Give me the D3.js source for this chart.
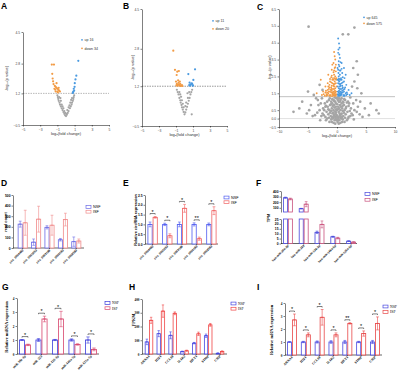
<!DOCTYPE html>
<html>
<head>
<meta charset="utf-8">
<script src="https://cdn.jsdelivr.net/npm/d3@7"></script>
<style>
body { margin: 0; background: #fff; }
svg { display: block; }
</style>
</head>
<body>
<script>
const width = 400, height = 377;
const SANS = "Arial, 'Liberation Sans', sans-serif";
const SERIF = "'Times New Roman', 'Liberation Serif', serif";

// ---- volcano data: [log2 fold change, -log10 p] ----
const aUp = [[0.78,1.22],[0.85,1.3],[0.9,1.45],[1.0,1.55],[1.02,1.75],[1.1,1.95],[1.2,2.15],[0.82,1.25],[0.95,1.35],[1.43,2.95]];
const aDown = [[-1.65,2.75],[-1.4,2.75],[-1.6,2.25],[-1.55,2.0],[-1.5,1.85],[-1.45,1.7],[-1.3,1.6],[-1.2,1.55],[-1.1,1.5],[-1.0,1.45],
  [-0.9,1.4],[-0.8,1.35],[-1.35,1.45],[-1.2,1.3],[-0.95,1.25],[-0.7,1.3],[-1.1,1.75],[-1.25,1.4],[-0.85,1.5],[-1.0,1.3]];
const aNs = [[-1.0,1.1],[-0.95,1.0],[-0.9,0.9],[-0.85,0.8],[-0.75,0.7],[-0.7,0.6],[-0.6,0.5],[-0.5,0.4],[-0.4,0.3],[-0.3,0.2],
  [-0.2,0.1],[-0.1,0.02],[0,-0.02],[0.1,0.05],[0.2,0.15],[0.3,0.25],[0.45,0.4],[0.55,0.5],[0.65,0.6],[0.7,0.7],[0.8,0.8],
  [0.85,0.9],[0.9,1.0],[0.95,1.1],[-0.5,0.6],[-0.3,0.4],[0.3,0.45],[-0.6,0.8],[0.5,0.7],[-0.8,1.0],[0.7,0.95],[-0.2,0.25],
  [0.15,0.3],[-0.4,0.5],[0.4,0.55],[-0.1,0.15],[0.05,0.1],[-0.65,0.95],[0.6,0.85]];

const bUp = [[0.45,1.72],[1.04,1.47],[0.85,1.32],[0.65,1.22],[0.95,1.22],[0.55,1.25],[0.75,1.28],[0.9,1.3],[1.0,1.24],[0.6,1.35],[1.24,1.92]];
const bDown = [[-1.32,2.72],[-1.12,1.9],[-0.85,1.82],[-0.66,1.85],[-0.92,1.68],[-1.0,1.4],[-0.9,1.3],[-0.8,1.25],[-0.7,1.35],[-0.6,1.22],
  [-0.5,1.3],[-0.4,1.22],[-0.3,1.25],[-0.85,1.22],[-0.55,1.4],[-0.95,1.24],[-0.25,1.21],[-0.75,1.45],[-0.45,1.21],[-0.65,1.28]];
const bNs = [[-0.9,1.05],[-0.8,0.95],[-0.7,0.85],[-0.6,0.7],[-0.5,0.6],[-0.45,0.5],[-0.35,0.4],[-0.3,0.3],[-0.2,0.2],[-0.1,0.1],
  [0,0.0],[0.1,0.08],[0.2,0.2],[0.3,0.32],[0.4,0.45],[0.5,0.58],[0.6,0.7],[0.7,0.85],[0.8,0.95],[0.9,1.05],[-0.4,0.75],
  [0.4,0.7],[-0.6,0.95],[0.55,0.95],[-0.2,0.45],[0.2,0.5],[0.35,0.9],[-0.3,0.6],[0.85,0.0],[-0.1,0.3],[0.1,0.35],[-0.5,0.85]];

const cUp = [[0.2,1.4],[0.4,1.5],[0.6,1.6],[0.8,1.45],[1.0,1.55],[1.2,1.4],[1.5,1.5],[1.8,1.45],[0.3,1.8],[0.5,1.9],[0.7,1.75],
  [0.9,1.95],[1.1,1.7],[1.4,1.85],[0.2,2.1],[0.4,2.2],[0.6,2.05],[0.8,2.3],[1.0,2.15],[0.3,2.5],[0.5,2.6],[0.7,2.4],[0.9,2.7],
  [0.2,2.9],[0.4,3.1],[0.6,2.85],[0.3,3.4],[0.5,3.6],[0.2,3.9],[0.35,4.45],[0.2,4.75],[1.3,2.4],[1.6,2.0],[2.0,1.7],[2.5,1.5],
  [0.15,1.6],[0.25,1.35],[0.45,1.35],[0.65,1.38],[0.1,2.3],[0.1,3.0],[1.2,3.0],[0.8,3.3],[1.1,1.35],[0.35,1.65],[0.55,1.45],
  [0.75,1.55],[0.95,1.8],[1.5,2.6],[0.15,1.9],[0.3,2.25],[0.5,2.35],[0.25,2.7],
  [0.3,1.55],[0.7,1.5],[1.2,1.6],[1.7,1.55],[2.2,1.4],[0.5,1.75],[0.9,1.65],[1.3,1.75],[0.6,1.95],[1.0,1.85],[0.4,2.05],
  [0.8,2.1],[1.2,2.2],[0.3,2.35],[0.6,2.3],[1.0,2.45],[0.5,2.85],[0.8,2.95],[0.3,3.2],[0.6,3.35],[0.4,3.8],[0.15,1.45],
  [0.35,1.42],[0.55,1.6],[0.75,1.42],[1.3,1.35],[1.6,1.4],[0.25,4.1],[0.45,4.2]];
const cDown = [[-0.2,1.4],[-0.4,1.5],[-0.6,1.6],[-0.8,1.45],[-1.0,1.55],[-1.2,1.4],[-1.5,1.5],[-1.8,1.45],[-2.1,1.35],[-0.3,1.8],
  [-0.5,1.9],[-0.7,1.75],[-0.9,1.95],[-1.1,1.7],[-1.3,1.85],[-1.6,1.7],[-0.2,2.1],[-0.4,2.2],[-0.6,2.05],[-0.8,2.3],[-1.0,2.15],
  [-1.3,2.0],[-0.3,2.5],[-0.5,2.6],[-0.7,2.4],[-0.9,2.55],[-1.2,2.35],[-0.2,2.8],[-0.4,3.0],[-0.6,2.75],[-0.8,3.2],[-0.3,3.5],
  [-0.5,3.95],[-1.5,2.6],[-2.0,1.9],[-2.4,1.6],[-0.15,1.6],[-0.25,1.35],[-0.45,1.35],[-0.65,1.38],[-0.85,1.32],[-0.1,1.9],
  [-0.1,2.4],[-1.1,1.35],[-1.4,1.6],[-0.35,1.65],[-0.55,1.45],[-0.75,1.55],[-0.95,1.75],[-0.2,3.2],[-2.8,2.3],[-3.5,1.5],
  [-0.15,2.3],[-0.45,2.4],[-1.6,2.1],
  [-0.3,1.55],[-0.7,1.5],[-1.2,1.6],[-1.7,1.55],[-2.3,1.45],[-2.6,1.4],[-0.5,1.75],[-0.9,1.65],[-1.4,1.75],[-1.9,1.65],
  [-0.6,1.95],[-1.0,1.85],[-1.5,1.9],[-0.4,2.05],[-0.8,2.1],[-1.2,2.2],[-0.3,2.35],[-0.6,2.3],[-1.0,2.45],[-0.5,2.85],
  [-0.9,2.9],[-0.3,3.05],[-0.6,3.3],[-0.4,3.7],[-1.8,1.35],[-2.0,1.55],[-0.15,1.45],[-0.35,1.42],[-0.55,1.6],[-0.75,1.42],
  [-1.3,1.35],[-1.6,1.4]];
const cNs = [[-0.2,0.1],[0.2,0.1],[-0.5,0.2],[0.5,0.2],[-0.8,0.3],[0.8,0.3],[-1.1,0.15],[1.1,0.15],[-1.5,0.25],[1.5,0.25],
  [-0.3,0.4],[0.3,0.4],[-0.6,0.5],[0.6,0.5],[-0.9,0.6],[0.9,0.6],[-1.3,0.5],[1.3,0.5],[-1.8,0.4],[1.8,0.4],[-0.2,0.7],[0.2,0.7],
  [-0.5,0.8],[0.5,0.8],[-0.8,0.9],[0.8,0.9],[-1.2,0.8],[1.2,0.8],[-1.6,0.7],[1.6,0.7],[-0.3,1.0],[0.3,1.0],[-0.6,1.1],[0.6,1.1],
  [-1.0,1.0],[1.0,1.0],[-1.4,1.1],[1.4,1.1],[-2.1,0.9],[2.1,0.9],[-0.1,-0.1],[0.1,-0.2],[-0.4,-0.1],[0.4,-0.1],[-0.7,0.0],
  [0.7,0.0],[-1.0,-0.05],[1.0,-0.05],[-1.4,0.05],[1.4,0.05],[-2.0,0.1],[2.0,0.1],[-2.5,0.3],[2.5,0.3],[-2.4,0.6],[2.4,0.6],
  [-3.0,0.5],[3.0,0.5],[-2.8,0.9],[2.8,0.9],[-3.3,1.1],[3.3,1.1],[-0.1,1.2],[0.1,1.25],[-0.4,1.25],[0.4,1.2],[-0.05,0.5],
  [0.05,0.85],[-0.15,0.35],[0.15,0.55],[-4.5,0.8],[4.8,0.6],[-5.2,0.3],[5.5,0.2],[-3.8,0.2],[3.9,0.25],[-6.5,0.6],[6.8,0.5],
  [-4.0,1.4],[4.2,1.5],[-5.0,1.6],[3.5,1.8],[-3.6,1.2],[4.0,1.0],[-7.5,0.4],[7.2,0.3],[-4.8,0.5],[5.8,0.9],[-6.0,1.0],
  [3.0,2.2],[3.6,2.6],[2.8,3.0],[3.4,3.4],[-4.9,5.45],[3.0,5.4],[1.0,5.0],[1.95,5.0],[-2.5,1.7],[2.6,1.9],[-3.0,2.0],
  [-0.3,-0.3],[0.3,-0.3],[-0.6,-0.25],[0.6,-0.25],[-0.9,-0.2],[0.9,-0.2],[-1.7,0.0],[1.7,-0.1],[-2.2,0.5],[2.2,0.45],
  [-1.9,0.75],[1.9,1.0],[-2.6,1.2],[2.3,1.25],[-3.2,0.8],[3.6,0.7],
  [-0.25,0.0],[0.25,0.0],[-0.55,0.1],[0.55,0.1],[-0.85,0.1],[0.85,0.1],[-1.2,0.35],[1.2,0.35],[-0.15,0.55],[0.35,0.6],
  [-0.45,0.65],[0.65,0.7],[-0.75,0.75],[0.95,0.75],[-1.05,0.85],[1.1,0.95],[-0.2,0.9],[0.15,1.1],[-0.5,1.05],[0.5,1.0],
  [-0.8,1.15],[0.8,1.2],[-1.25,1.2],[1.25,1.15],[-1.7,1.0],[1.7,0.95],[-2.0,0.7],[2.0,0.75],[-2.3,0.2],[2.3,0.15],
  [-1.3,-0.2],[1.3,-0.2],[-1.9,-0.1],[1.9,0.0],[-0.05,0.2],[0.05,-0.05],[-0.35,0.25],[0.45,0.3],[-0.65,0.35],[0.7,0.25],
  [-1.0,0.45],[1.0,0.45],[-1.5,0.55],[1.5,0.6],[-2.7,0.15],[2.7,0.2],[-3.4,0.35],[3.4,0.4],[-4.2,0.15],[4.4,0.1],
  [-2.9,-0.1],[2.9,-0.05]];

// ---- bar data ----
const circNames = ["circ_0004482", "circ_0001653", "circ_0003186", "circ_0000183", "circ_0002583"];
const dNsf = [225, 55, 195, 78, 60], dNsfErr = [28, 30, 15, 12, 44];
const dIsf = [238, 272, 215, 268, 66], dIsfErr = [118, 122, 94, 60, 19];

const eNsf = [1, 1, 1, 1, 1], eNsfErr = [0.12, 0.06, 0.12, 0.08, 0.07];
const eIsf = [1.36, 0.42, 1.82, 0.27, 1.70], eIsfErr = [0.04, 0.1, 0.2, 0.08, 0.2];
const eStars = ["*", "*", "*", "**", "*"];

const fNames = ["hsa-miR-30e-3p", "hsa-miR-223", "hsa-miR-126-3p", "hsa-miR-146a-5p", "hsa-miR-125a-5p"];
const fNsf = [280, 85, 11.4, 6.9, 2.4], fNsfErr = [10, 5, 1.2, 0.5, 0.3];
const fIsf = [257, 165, 19.5, 5.5, 1.4], fIsfErr = [15, 45, 3.5, 0.8, 0.4];

const gNames = ["miR-30e-3p", "miR-223", "miR-126-3p", "miR-146a-5p", "miR-125a-5p"];
const gNsf = [1, 1, 1, 1, 1], gNsfErr = [0.03, 0.1, 0.04, 0.08, 0.22];
const gIsf = [0.65, 2.5, 2.5, 0.68, 0.33], gIsfErr = [0.05, 0.2, 0.55, 0.05, 0.1];
const gStars = ["*", "*", "*", "*", "*"];

const geneNames = ["ANXA1", "HIF1", "CCL18", "IL1R2", "HEY1", "S100P", "CSIP"];
const hNsf = [88, 148, 136, 18, 79, 133, 5], hNsfErr = [20, 22, 25, 3, 5, 12, 3];
const hIsf = [245, 312, 296, 24, 147, 212, 18], hIsfErr = [22, 45, 10, 4, 12, 10, 5];

const iNsf = [1, 1, 1, 1, 1, 1, 1], iNsfErr = [0.02, 0.05, 0.08, 0.1, 0.12, 0.05, 0.12];
const iIsf = [2.7, 1.55, 2.9, 1.55, 2.43, 1.65, 2.43], iIsfErr = [0.45, 0.15, 0.6, 0.15, 0.05, 0.2, 0.5];
const iStars = ["*", "*", "*", "*", "**", "*", "*"];

const svg = d3.select("body").append("svg")
  .attr("width", width)
  .attr("height", height);

function styleAxis(ax, font, size, bold) {
  ax.attr("font-family", font).attr("font-size", size);
  ax.select(".domain").attr("stroke-width", 0.5);
  ax.selectAll(".tick line").attr("stroke-width", 0.5);
  ax.selectAll(".tick text").attr("font-weight", bold ? "bold" : "normal");
}

function panelLetter(t, x, y) {
  svg.append("text").attr("x", x).attr("y", y)
    .attr("font-family", SANS).attr("font-weight", "bold").attr("font-size", 8.5)
    .text(t);
}

// volcano plots
function volcano(o) {
  const g = svg.append("g");
  const x = d3.scaleLinear().domain(o.xDomain).range([o.x0, o.x1]);
  const y = d3.scaleLinear().domain(o.yDomain).range([o.yBot, o.yTop]);

  o.lines.forEach(function(l) {
    g.append("line")
      .attr("x1", o.x0).attr("x2", o.x1)
      .attr("y1", y(l.v)).attr("y2", y(l.v))
      .attr("stroke", l.color).attr("stroke-width", 0.6)
      .attr("stroke-dasharray", l.dash);
  });

  const groups = [[o.ns, "#a5a5a5", o.rNs], [o.down, "#f29b45", o.r], [o.up, "#4a9ae0", o.r]];
  groups.forEach(function(gr) {
    g.append("g").selectAll("circle")
      .data(gr[0])
      .enter().append("circle")
      .attr("cx", d => x(d[0]))
      .attr("cy", d => y(d[1]))
      .attr("r", gr[2])
      .attr("fill", gr[1]);
  });

  const ax = g.append("g").attr("transform", "translate(0," + o.yBot + ")")
    .call(d3.axisBottom(x).tickValues(o.xTicks).tickSize(1.5).tickSizeOuter(0).tickPadding(2).tickFormat(d3.format("d")));
  styleAxis(ax, SANS, 3.3);
  const ay = g.append("g").attr("transform", "translate(" + o.x0 + ",0)")
    .call(d3.axisLeft(y).tickValues(o.yTicks).tickSize(1.5).tickSizeOuter(0).tickPadding(1.5).tickFormat(d3.format(".1f")));
  styleAxis(ay, SANS, 3.3);
  ax.selectAll("text").attr("fill", "#444");
  ay.selectAll("text").attr("fill", "#444");

  g.append("text")
    .attr("x", (o.x0 + o.x1) / 2).attr("y", o.yBot + 9.5)
    .attr("text-anchor", "middle").attr("font-family", SANS).attr("font-size", 4).attr("fill", "#333")
    .text("log\u2082(fold change)");
  g.append("text")
    .attr("transform", "translate(" + o.titleX + "," + (o.yBot + o.yTop) / 2 + ") rotate(-90)")
    .attr("text-anchor", "middle").attr("font-family", SANS).attr("font-size", 4).attr("fill", "#333")
    .text("-log\u2081\u2080(p value)");

  // legend
  [[o.upLabel, "#4a9ae0", 0], [o.downLabel, "#f29b45", 1]].forEach(function(l) {
    const ly = o.legY + l[2] * o.legStep;
    g.append("circle").attr("cx", o.legX).attr("cy", ly - 1.2).attr("r", 0.9).attr("fill", l[1]);
    g.append("text").attr("x", o.legX + 2.5).attr("y", ly)
      .attr("font-family", SANS).attr("font-size", 3.6).attr("fill", "#333").text(l[0]);
  });
}

// grouped outline bar charts (NSF vs ISF)
function barPanel(o) {
  const g = svg.append("g");
  const x = d3.scaleBand().domain(o.cats).range([o.x0, o.x1]).paddingInner(o.pi).paddingOuter(o.po);
  const sub = d3.scaleBand().domain(["NSF", "ISF"]).range([0, x.bandwidth()]);
  const segs = o.segs.map(s => Object.assign({}, s, { y: d3.scaleLinear().domain(s.domain).range(s.range) }));
  const base = segs[0].range[0];

  segs.forEach(function(s) {
    const ay = g.append("g").attr("transform", "translate(" + o.axisX + ",0)")
      .call(d3.axisLeft(s.y).tickValues(s.ticks).tickSize(1.5).tickSizeOuter(0).tickPadding(1).tickFormat(d3.format(s.fmt || "")));
    styleAxis(ay, o.font, 3.3, true);
  });

  g.append("line")
    .attr("x1", o.axisX).attr("x2", o.x1)
    .attr("y1", base).attr("y2", base)
    .attr("stroke", "#000").attr("stroke-width", 0.6);

  const series = [
    { key: "NSF", v: o.nsf, e: o.nsfErr, c: o.cNsf },
    { key: "ISF", v: o.isf, e: o.isfErr, c: o.cIsf }
  ];
  const tops = o.cats.map(() => Infinity);

  series.forEach(function(s) {
    o.cats.forEach(function(cat, i) {
      const v = s.v[i], e = s.e[i];
      const bx = x(cat) + sub(s.key), bw = sub.bandwidth();
      segs.forEach(function(sg) {
        if (v <= sg.domain[0]) return;
        const top = sg.y(Math.min(v, sg.domain[1]));
        g.append("rect")
          .attr("x", bx + 0.45).attr("y", top)
          .attr("width", bw - 0.9).attr("height", sg.y(sg.domain[0]) - top)
          .attr("fill", "#fff").attr("stroke", s.c).attr("stroke-width", 0.8);
      });
      const sg = segs.find(q => v <= q.domain[1]) || segs[segs.length - 1];
      const cx = bx + bw / 2, yHi = sg.y(v + e), yLo = sg.y(Math.max(v - e, sg.domain[0]));
      const cap = bw * 0.28;
      g.append("line").attr("x1", cx).attr("x2", cx).attr("y1", yHi).attr("y2", yLo)
        .attr("stroke", s.c).attr("stroke-width", 0.6);
      [yHi, yLo].forEach(function(yy) {
        g.append("line").attr("x1", cx - cap).attr("x2", cx + cap).attr("y1", yy).attr("y2", yy)
          .attr("stroke", s.c).attr("stroke-width", 0.6);
      });
      g.append("line").attr("x1", cx - cap * 0.9).attr("x2", cx + cap * 0.9).attr("y1", sg.y(v)).attr("y2", sg.y(v))
        .attr("stroke", s.c).attr("stroke-width", 0.7);
      tops[i] = Math.min(tops[i], yHi);
    });
  });

  // significance brackets
  if (o.stars) {
    o.cats.forEach(function(cat, i) {
      const c1 = x(cat) + sub("NSF") + sub.bandwidth() / 2;
      const c2 = x(cat) + sub("ISF") + sub.bandwidth() / 2;
      const by = tops[i] - 3;
      g.append("path")
        .attr("d", "M" + c1 + "," + (by + 1) + "V" + by + "H" + c2 + "V" + (by + 1))
        .attr("fill", "none").attr("stroke", "#000").attr("stroke-width", 0.5);
      g.append("text").attr("x", (c1 + c2) / 2).attr("y", by + 0.2)
        .attr("text-anchor", "middle").attr("font-family", SANS).attr("font-size", 5.5)
        .text(o.stars[i]);
    });
  }

  // category labels
  o.cats.forEach(function(cat) {
    const cx = x(cat) + x.bandwidth() / 2;
    g.append("line").attr("x1", cx).attr("x2", cx).attr("y1", base).attr("y2", base + 1.2)
      .attr("stroke", "#000").attr("stroke-width", 0.5);
    g.append("text")
      .attr("transform", "translate(" + (cx + 1) + "," + (base + 2.5) + ") rotate(-45)")
      .attr("text-anchor", "end").attr("font-family", o.font).attr("font-weight", "bold")
      .attr("font-size", o.catSize || 3.2)
      .text(cat);
  });

  // y title
  g.append("text")
    .attr("transform", "translate(" + o.titleX + "," + o.titleY + ") rotate(-90)")
    .attr("text-anchor", "middle").attr("font-family", o.font).attr("font-weight", "bold")
    .attr("font-size", o.titleSize || 4.2)
    .text(o.title);

  // legend
  [["NSF", o.cNsf, 0], ["ISF", o.cIsf, 1]].forEach(function(l) {
    const ly = o.legY + l[2] * o.legStep;
    g.append("rect").attr("x", o.legX).attr("y", ly - 1.4).attr("width", 5).attr("height", 2.8)
      .attr("fill", "#fff").attr("stroke", l[1]).attr("stroke-width", 0.7);
    g.append("text").attr("x", o.legX + 7).attr("y", ly + 1.3)
      .attr("font-family", o.font).attr("font-size", 3.8).text(l[0]);
  });
}

// A
volcano({
  xDomain: [-5, 5], x0: 23, x1: 109, yDomain: [-0.5, 4.5], yBot: 125, yTop: 32,
  xTicks: [-5, -3, -1, 1, 3, 5], yTicks: [-0.5, 1.2, 2.8, 4.5],
  lines: [{ v: 1.2, color: "#8a8a8a", dash: "1.5,1" }],
  up: aUp, down: aDown, ns: aNs, r: 1.1, rNs: 1.1, titleX: 8,
  upLabel: "up 16", downLabel: "down 34", legX: 82, legY: 41, legStep: 8.5
});
// B
volcano({
  xDomain: [-5, 5], x0: 142, x1: 227, yDomain: [-0.5, 4.5], yBot: 126, yTop: 9,
  xTicks: [-5, -3, -1, 1, 3, 5], yTicks: [-0.5, 1.2, 2.8, 4.5],
  lines: [{ v: 1.2, color: "#555", dash: "1.5,1" }],
  up: bUp, down: bDown, ns: bNs, r: 1.1, rNs: 1.1, titleX: 134,
  upLabel: "up 11", downLabel: "down 20", legX: 213, legY: 22, legStep: 8
});
// C
volcano({
  xDomain: [-10, 10], x0: 279, x1: 395, yDomain: [-0.5, 6.5], yBot: 127, yTop: 9,
  xTicks: [-10, -5, 0, 5, 10], yTicks: [-0.5, 0, 0.5, 1.5, 2.5, 3.5, 4.5, 5.5, 6.5],
  lines: [{ v: 1.3, color: "#999", dash: null }, { v: 0, color: "#ccc", dash: null }],
  up: cUp, down: cDown, ns: cNs, r: 0.95, rNs: 1.35, titleX: 271,
  upLabel: "up 645", downLabel: "down 575", legX: 364, legY: 18.5, legStep: 6
});

// D
barPanel({
  cats: circNames, x0: 15, x1: 84, pi: 0.25, po: 0.2, axisX: 13,
  segs: [{ domain: [0, 500], range: [248, 195], ticks: [0, 100, 200, 300, 400, 500] }],
  nsf: dNsf, nsfErr: dNsfErr, isf: dIsf, isfErr: dIsfErr,
  cNsf: "#6c6ce6", cIsf: "#f08a8a", font: SANS, catSize: 3,
  title: "read count", titleX: 7, titleY: 222, titleSize: 3.8,
  legX: 86, legY: 207, legStep: 4.7
});
// E
barPanel({
  cats: circNames, x0: 146, x1: 218, pi: 0.3, po: 0.1, axisX: 145,
  segs: [{ domain: [0, 2.5], range: [244, 195], ticks: [0, 0.5, 1, 1.5, 2, 2.5], fmt: ".1f" }],
  nsf: eNsf, nsfErr: eNsfErr, isf: eIsf, isfErr: eIsfErr, stars: eStars,
  cNsf: "#4f5cf0", cIsf: "#f06262", font: SANS, catSize: 3,
  title: "Relative circRNA expression", titleX: 137, titleY: 220, titleSize: 3.8,
  legX: 224, legY: 197.5, legStep: 4.7
});
// F
barPanel({
  cats: fNames, x0: 282, x1: 357, pi: 0.375, po: 0.06, axisX: 281,
  segs: [
    { domain: [0, 25], range: [243.5, 219], ticks: [0, 5, 10, 15, 20, 25] },
    { domain: [25, 400], range: [212, 191], ticks: [100, 200, 300, 400] }
  ],
  nsf: fNsf, nsfErr: fNsfErr, isf: fIsf, isfErr: fIsfErr,
  cNsf: "#4848dc", cIsf: "#c8507c", font: SANS, catSize: 3,
  title: "TPM", titleX: 270, titleY: 218, titleSize: 4,
  legX: 365, legY: 194, legStep: 5.8
});
// G
barPanel({
  cats: gNames, x0: 17, x1: 99, pi: 0.27, po: 0.12, axisX: 17,
  segs: [{ domain: [0, 4], range: [354, 298], ticks: [0, 1, 2, 3, 4] }],
  nsf: gNsf, nsfErr: gNsfErr, isf: gIsf, isfErr: gIsfErr, stars: gStars,
  cNsf: "#3c3cdc", cIsf: "#d8446c", font: SERIF, catSize: 3.4,
  title: "Relative miRNA expression", titleX: 7.5, titleY: 327, titleSize: 4.4,
  legX: 105, legY: 303, legStep: 5.2
});
// H
barPanel({
  cats: geneNames, x0: 142, x1: 227, pi: 0.28, po: 0.23, axisX: 142,
  segs: [{ domain: [0, 400], range: [354, 299], ticks: [0, 100, 200, 300, 400] }],
  nsf: hNsf, nsfErr: hNsfErr, isf: hIsf, isfErr: hIsfErr,
  cNsf: "#4545e0", cIsf: "#f04545", font: SERIF, catSize: 3.4,
  title: "FPKM", titleX: 134.5, titleY: 320, titleSize: 4.4,
  legX: 231, legY: 303.5, legStep: 5.2
});
// I
barPanel({
  cats: geneNames, x0: 285, x1: 382, pi: 0.28, po: 0.145, axisX: 285,
  segs: [{ domain: [0, 4], range: [355, 303], ticks: [0, 1, 2, 3, 4] }],
  nsf: iNsf, nsfErr: iNsfErr, isf: iIsf, isfErr: iIsfErr, stars: iStars,
  cNsf: "#4848e0", cIsf: "#e84848", font: SERIF, catSize: 3.4,
  title: "Relative mRNA expression", titleX: 273, titleY: 330, titleSize: 4.4,
  legX: 383, legY: 306.5, legStep: 5.5
});

panelLetter("A", 1, 8.5);
panelLetter("B", 123, 8.5);
panelLetter("C", 257, 9.5);
panelLetter("D", 1, 186);
panelLetter("E", 123, 186);
panelLetter("F", 256, 186);
panelLetter("G", 2, 290);
panelLetter("H", 129, 290);
panelLetter("I", 257, 290);
</script>
</body>
</html>
